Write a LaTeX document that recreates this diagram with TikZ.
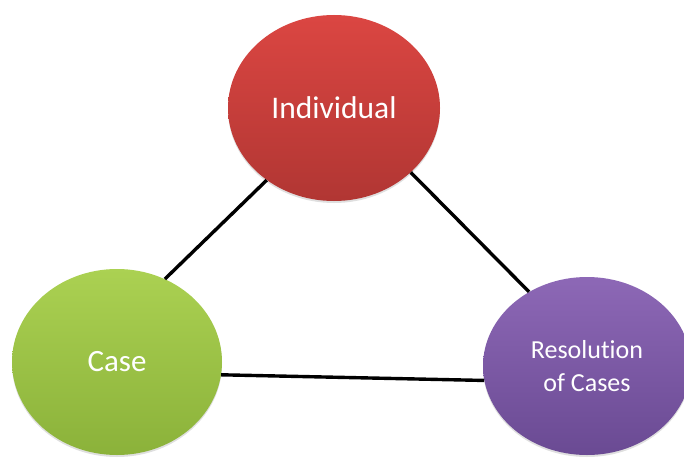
\documentclass[tikz,border=0pt]{standalone}
\usepackage{fontspec}
\setmainfont{Carlito}[Ligatures={NoCommon}]
\usetikzlibrary{shapes.geometric,shadows}
\definecolor{redtop}{HTML}{DB4642}
\definecolor{redbot}{HTML}{B13633}
\definecolor{greentop}{HTML}{ABD152}
\definecolor{greenbot}{HTML}{8BB23A}
\definecolor{purtop}{HTML}{8D68B6}
\definecolor{purbot}{HTML}{6A4A93}
\tikzset{
  bubble/.style={ellipse, inner sep=0pt, text=white, align=center,
    drop shadow={opacity=0.25, shadow xshift=0pt, shadow yshift=-2pt}},
  link/.style={line width=3.4pt, black}
}
\begin{document}
\begin{tikzpicture}[x=1pt,y=1pt]
\useasboundingbox (0,0) rectangle (684,459);
\node[bubble, minimum width=212pt, minimum height=186pt, top color=redtop, bottom color=redbot,
  font=\fontsize{31.5}{36}\selectfont] (ind) at (334,351) {Individual};
\node[bubble, minimum width=210pt, minimum height=186pt, top color=greentop, bottom color=greenbot,
  font=\fontsize{31}{36}\selectfont] (case) at (117,97) {Case};
\node[bubble, minimum width=208pt, minimum height=178pt, top color=purtop, bottom color=purbot,
  font=\fontsize{26}{33}\selectfont] (res) at (587,93) {Resolution\\of Cases};
\draw[link] (ind.227) -- (case.60);
\draw[link] (ind.-40.5) -- (res.128.6);
\draw[link] (case.-7) -- (res.-172);
\end{tikzpicture}
\end{document}
